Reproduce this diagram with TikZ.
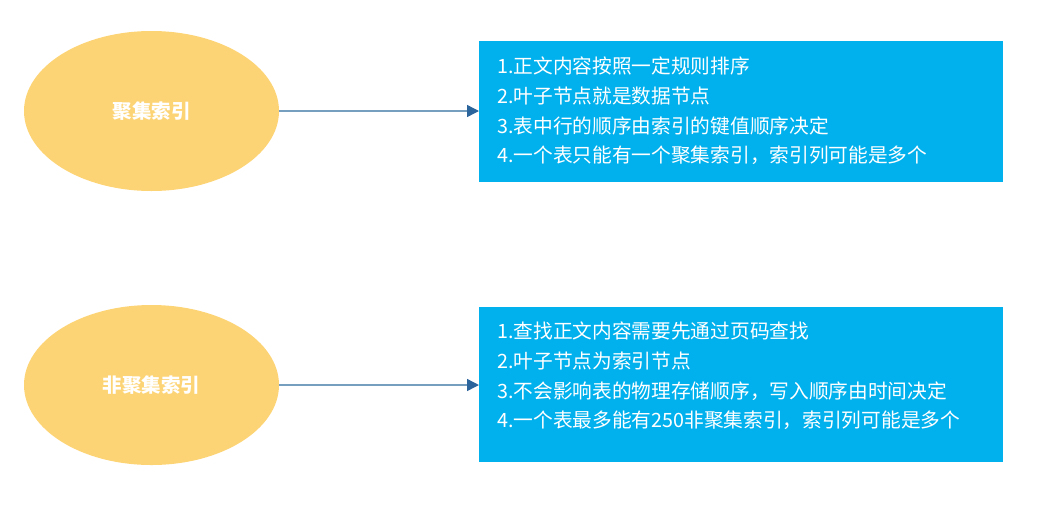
\documentclass[tikz,border=0pt]{standalone}
\usepackage{fontspec}
\setmainfont{Noto Sans CJK SC}
\usetikzlibrary{shapes.geometric,arrows.meta}
\definecolor{ellfill}{RGB}{253,212,117}
\definecolor{boxfill}{RGB}{0,177,238}
\definecolor{linecol}{RGB}{118,158,190}
\definecolor{tipcol}{RGB}{44,100,156}
\tikzset{
  idxell/.style={ellipse, fill=ellfill, draw=none, minimum width=255pt, minimum height=160pt, inner sep=0pt, text=white, font=\bfseries\fontsize{19.5}{22}\selectfont},
  infobox/.style={rectangle, fill=boxfill, draw=none, inner sep=0pt, anchor=north west},
  infotext/.style={anchor=west, align=left, inner sep=0pt, text=white, font=\fontsize{19.7}{29.8}\selectfont},
  conn/.style={draw=linecol, line width=1.4pt, -{Triangle[length=12pt,width=12pt,color=tipcol,fill=tipcol]}}
}
\begin{document}
\begin{tikzpicture}[x=1pt,y=-1pt]
\useasboundingbox (0,0) rectangle (1046,504);
\node[idxell] (e1) at (151.5,111) {聚集索引};
\node[idxell] (e2) at (151.5,385) {非聚集索引};
\node[infobox, minimum width=524pt, minimum height=141pt] (b1) at (479,41) {};
\node[infobox, minimum width=524pt, minimum height=155pt] (b2) at (479,307) {};
\node[infotext] (t1) at (497,111) {1.正文内容按照一定规则排序\\2.叶子节点就是数据节点\\3.表中行的顺序由索引的键值顺序决定\\4.一个表只能有一个聚集索引，索引列可能是多个};
\node[infotext] (t2) at (497,376) {1.查找正文内容需要先通过页码查找\\2.叶子节点为索引节点\\3.不会影响表的物理存储顺序，写入顺序由时间决定\\4.一个表最多能有250非聚集索引，索引列可能是多个};
\draw[conn] (e1.east) -- (e1.east -| b1.west);
\draw[conn] (e2.east) -- (e2.east -| b2.west);
\end{tikzpicture}
\end{document}
